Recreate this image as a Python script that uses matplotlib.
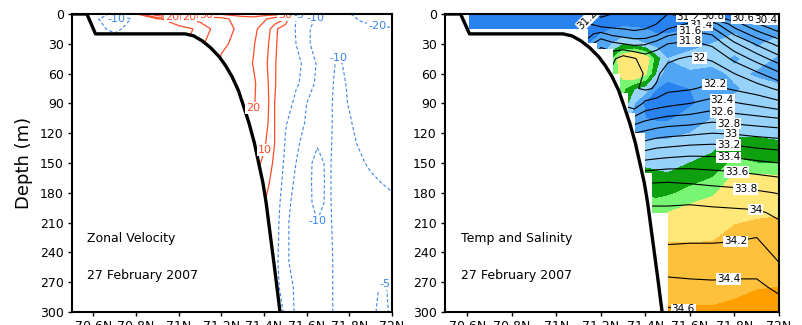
import numpy as np
import matplotlib
matplotlib.use('Agg')
import matplotlib.pyplot as plt
from matplotlib.patches import Polygon

# Perfil del fondo (latitud, profundidad)
topo_lon = [70.50, 70.57, 70.61, 71.03, 71.07, 71.11, 71.15, 71.19, 71.22, 71.25, 71.28,
            71.30, 71.33, 71.355, 71.375, 71.395, 71.41, 71.425, 71.44, 71.455, 71.475]
topo_dep = [0, 0, 20, 20, 22, 27, 34, 43, 52, 63, 77, 90, 110, 130, 150, 170, 190, 215, 240, 265, 300]

# Zona con datos en el panel de temperatura (escalones de la malla)
mask_edges = [70.609, 71.144, 71.181, 71.256, 71.286, 71.323, 71.353, 71.398, 71.428, 71.503, 72.0]
mask_bottom = [15.5, 29.5, 35, 60, 80, 100, 120, 160, 200, 300]

# Velocidad zonal (cm/s), filas = profundidad, columnas = latitud
lon_u = [70.6, 70.7, 70.8, 70.9, 71.0, 71.1, 71.2, 71.3, 71.35, 71.4, 71.45,
         71.5, 71.55, 71.6, 71.65, 71.7, 71.75, 71.8, 71.85, 71.9, 71.95, 72.0]
dep_u = [0, 5, 15, 30, 50, 70, 90, 110, 130, 150, 170, 190, 210, 230, 250, 275, 300]
u_vel = [
    [-2, -6, 4, 28, 36, 34, 31, 33, 34, 34, 34, 34, -4, -7, -9, -10.5, -13, -19.5, -23, -25, -26, -26],
    [-3, -11, -3, 4, 9, 12, 16, 27, 27, 22, 14, 10, -5, -8.5, -10.5, -11, -12.5, -17, -21, -22.5, -23, -23],
    [-2, -7, -1, 1, 3, 6, 14, 24, 23, 15, 6.5, 1, -5.5, -9.5, -11, -11.5, -12, -14, -16, -18, -19, -19.5],
    [0, 0, 0, 1, 3, 8, 18, 24, 21, 13, 6, 1, -5, -9.5, -11, -11.5, -11, -12, -13, -14, -15, -15],
    [0, 0, 0, 1, 3, 6, 22, 25, 19.5, 12, 5.5, 1, -3.5, -6.5, -10.5, -11, -9.5, -11, -12.5, -13, -13.5, -14],
    [0, 0, 0, 0, 2, 5, 24, 26, 22, 13, 5.5, 0.5, -4, -7.5, -11, -11, -9, -10.5, -12.5, -13, -13.5, -14],
    [0, 0, 0, 0, 2, 5, 24, 24, 21, 14, 5, -1, -7, -10, -11.5, -11, -8.5, -10.3, -12, -12.5, -13, -13.5],
    [0, 0, 0, 0, 2, 5, 20, 19, 17, 13, 5, -4.5, -8, -10.5, -11, -11, -8.5, -9.5, -11.5, -12, -12.5, -13],
    [0, 0, 0, 0, 2, 5, 16, 16, 14, 11, 5, -5.5, -9.5, -11, -10.3, -10.8, -8.5, -9, -10.5, -11.5, -12, -12.5],
    [0, 0, 0, 0, 2, 5, 14, 14, 12, 9, 4, -7, -10, -11, -9, -10.6, -8.5, -8.5, -9.3, -10.8, -11.5, -12],
    [0, 0, 0, 0, 2, 5, 12, 12, 10, 8, 2, -8.5, -10.5, -11, -8.8, -10.6, -8.5, -8, -8.5, -9, -10, -10.8],
    [0, 0, 0, 0, 2, 5, 10, 10, 8, 5.5, -1, -9, -11, -11, -9, -10.6, -8.5, -8, -8, -8, -8.5, -9],
    [0, 0, 0, 0, 2, 4, 8, 8, 6, 3, -2, -9.5, -11, -11, -10.1, -10.8, -8.5, -8, -7.5, -7.5, -7.5, -8],
    [0, 0, 0, 0, 2, 3, 6, 6, 4, 2, -2.5, -9.5, -11, -11.2, -11, -11, -8.5, -8, -7.5, -7, -7, -7],
    [0, 0, 0, 0, 1, 2, 4, 4, 2, 1, -3, -9.5, -11, -11.5, -11.5, -11.2, -8.5, -8, -7.5, -7, -6, -6.5],
    [0, 0, 0, 0, 1, 2, 3, 3, 1, 0, -3.5, -7, -11, -11.5, -11.5, -11.2, -8.5, -8, -7.5, -6.5, -4.5, -5.5],
    [0, 0, 0, 0, 1, 2, 2, 2, 1, 0, -3, -5.5, -11, -11.5, -11.5, -11.2, -8.5, -8, -7.5, -6, -4, -5.5],
]
u_pos_levels = [5, 10, 20, 30]
u_neg_levels = [-20, -10, -5]
u_pos_labels = [(70.97, 2), (71.05, 2.5), (71.13, 1.5), (71.5, 1), (71.365, 97), (71.405, 137)]
u_neg_labels = [(70.72, 8), (71.575, 3), (71.64, 3), (71.93, 13), (71.735, 42), (71.67, 215), (71.965, 272)]

# Temperatura y salinidad: cada lista es una columna (latitud) con valores por profundidad
lon_ts = [70.6, 70.8, 71.0, 71.1, 71.2, 71.25, 71.3, 71.35, 71.4, 71.45, 71.5, 71.6, 71.7, 71.8, 71.9, 72.0]
dep_ts = [0, 10, 20, 30, 45, 60, 75, 90, 105, 120, 135, 150, 165, 180, 200, 225, 250, 275, 300]
sal_cols = [
    [31.3, 31.3, 31.3, 31.35, 31.6, 31.9, 32.1, 32.3, 32.6, 32.9, 33.2, 33.5, 33.75, 33.92, 34.04, 34.16, 34.3, 34.47, 34.63],
    [31.3, 31.3, 31.3, 31.35, 31.6, 31.9, 32.1, 32.3, 32.6, 32.9, 33.2, 33.5, 33.75, 33.92, 34.04, 34.16, 34.3, 34.47, 34.63],
    [31.3, 31.3, 31.3, 31.35, 31.6, 31.9, 32.1, 32.3, 32.6, 32.9, 33.2, 33.5, 33.75, 33.92, 34.04, 34.16, 34.3, 34.47, 34.63],
    [31.3, 31.3, 31.3, 31.35, 31.6, 31.9, 32.1, 32.3, 32.6, 32.9, 33.2, 33.5, 33.75, 33.92, 34.04, 34.16, 34.3, 34.47, 34.63],
    [30.95, 31.1, 31.45, 31.75, 31.95, 32.0, 32.1, 32.3, 32.6, 32.9, 33.2, 33.5, 33.75, 33.92, 34.04, 34.16, 34.3, 34.47, 34.63],
    [31.0, 31.1, 31.35, 31.65, 31.95, 32.05, 32.05, 32.3, 32.6, 32.9, 33.2, 33.5, 33.75, 33.92, 34.04, 34.16, 34.3, 34.47, 34.63],
    [31.0, 31.1, 31.3, 31.6, 32.1, 32.12, 32.05, 32.15, 32.5, 32.85, 33.2, 33.5, 33.75, 33.92, 34.04, 34.16, 34.3, 34.47, 34.63],
    [31.05, 31.1, 31.25, 31.55, 32.02, 32.08, 32.02, 32.05, 32.45, 32.8, 33.15, 33.48, 33.74, 33.92, 34.04, 34.16, 34.3, 34.47, 34.63],
    [31.1, 31.15, 31.25, 31.58, 31.9, 31.98, 31.97, 32.25, 32.55, 32.85, 33.15, 33.46, 33.73, 33.92, 34.04, 34.16, 34.3, 34.47, 34.63],
    [31.15, 31.2, 31.35, 31.7, 31.93, 31.97, 32.02, 32.3, 32.6, 32.9, 33.2, 33.48, 33.74, 33.92, 34.04, 34.16, 34.3, 34.47, 34.63],
    [31.2, 31.25, 31.55, 31.8, 31.97, 32.07, 32.15, 32.34, 32.64, 32.93, 33.22, 33.5, 33.75, 33.92, 34.04, 34.16, 34.3, 34.47, 34.63],
    [31.1, 31.44, 31.66, 31.85, 32.03, 32.1, 32.18, 32.4, 32.67, 32.96, 33.26, 33.52, 33.73, 33.91, 34.06, 34.17, 34.3, 34.45, 34.61],
    [30.7, 31.3, 31.58, 31.76, 31.98, 32.1, 32.25, 32.48, 32.73, 33.0, 33.27, 33.5, 33.71, 33.88, 34.05, 34.17, 34.3, 34.44, 34.56],
    [30.55, 30.89, 31.17, 31.44, 31.75, 32.0, 32.17, 32.42, 32.69, 32.98, 33.25, 33.48, 33.69, 33.86, 34.04, 34.18, 34.3, 34.45, 34.56],
    [30.35, 30.62, 30.88, 31.17, 31.52, 31.84, 32.09, 32.35, 32.65, 32.94, 33.2, 33.44, 33.65, 33.83, 34.03, 34.2, 34.32, 34.44, 34.55],
    [30.2, 30.37, 30.66, 30.93, 31.28, 31.64, 31.96, 32.26, 32.6, 32.91, 33.17, 33.4, 33.61, 33.79, 33.96, 34.1, 34.2, 34.36, 34.5],
]
temp_cols = [
    [-1.65, -1.65, -1.65, -1.65, -1.6, -1.55, -1.55, -1.6, -1.6, -1.52, -1.47, -1.44, -1.38, -1.32, -1.2, -1.02, -0.92, -0.75, -0.55],
    [-1.65, -1.65, -1.65, -1.65, -1.6, -1.55, -1.55, -1.6, -1.6, -1.52, -1.47, -1.44, -1.38, -1.32, -1.2, -1.02, -0.92, -0.75, -0.55],
    [-1.65, -1.65, -1.65, -1.65, -1.6, -1.55, -1.55, -1.6, -1.6, -1.52, -1.47, -1.44, -1.38, -1.32, -1.2, -1.02, -0.92, -0.75, -0.55],
    [-1.65, -1.65, -1.65, -1.65, -1.6, -1.55, -1.55, -1.6, -1.6, -1.52, -1.47, -1.44, -1.38, -1.32, -1.2, -1.02, -0.92, -0.75, -0.55],
    [-1.65, -1.62, -1.6, -1.55, -1.5, -1.45, -1.5, -1.55, -1.6, -1.52, -1.47, -1.44, -1.38, -1.32, -1.2, -1.02, -0.92, -0.75, -0.55],
    [-1.65, -1.62, -1.58, -1.5, -1.3, -1.28, -1.3, -1.4, -1.5, -1.52, -1.47, -1.44, -1.38, -1.32, -1.2, -1.02, -0.92, -0.75, -0.55],
    [-1.65, -1.62, -1.55, -1.42, -1.1, -1.15, -1.28, -1.33, -1.42, -1.5, -1.47, -1.44, -1.38, -1.32, -1.2, -1.02, -0.92, -0.75, -0.55],
    [-1.65, -1.62, -1.56, -1.45, -1.02, -1.08, -1.4, -1.5, -1.55, -1.52, -1.47, -1.44, -1.38, -1.32, -1.2, -1.02, -0.92, -0.75, -0.55],
    [-1.65, -1.62, -1.58, -1.5, -1.12, -1.18, -1.45, -1.62, -1.6, -1.52, -1.47, -1.42, -1.36, -1.32, -1.22, -1.05, -0.92, -0.75, -0.55],
    [-1.65, -1.62, -1.6, -1.55, -1.36, -1.42, -1.6, -1.65, -1.62, -1.52, -1.47, -1.44, -1.36, -1.32, -1.25, -1.05, -0.92, -0.75, -0.55],
    [-1.65, -1.62, -1.6, -1.55, -1.5, -1.58, -1.62, -1.65, -1.62, -1.52, -1.47, -1.44, -1.38, -1.32, -1.2, -1.02, -0.92, -0.75, -0.55],
    [-1.65, -1.62, -1.58, -1.55, -1.45, -1.52, -1.6, -1.62, -1.55, -1.5, -1.45, -1.4, -1.34, -1.27, -1.15, -1.02, -0.92, -0.75, -0.55],
    [-1.62, -1.6, -1.55, -1.5, -1.45, -1.55, -1.5, -1.55, -1.5, -1.46, -1.42, -1.36, -1.3, -1.22, -1.12, -1.02, -0.9, -0.75, -0.55],
    [-1.62, -1.58, -1.5, -1.45, -1.52, -1.47, -1.52, -1.47, -1.45, -1.42, -1.34, -1.28, -1.18, -1.12, -1.05, -0.95, -0.82, -0.7, -0.5],
    [-1.62, -1.6, -1.52, -1.52, -1.45, -1.52, -1.45, -1.5, -1.46, -1.42, -1.35, -1.3, -1.17, -1.1, -1.03, -0.92, -0.8, -0.62, -0.45],
    [-1.62, -1.6, -1.52, -1.45, -1.52, -1.55, -1.48, -1.45, -1.5, -1.45, -1.35, -1.3, -1.18, -1.1, -1.02, -0.9, -0.8, -0.6, -0.35],
]
temp_bounds = [-2.0, -1.6, -1.5, -1.4, -1.3, -1.2, -1.0, -0.6, 1.0]
temp_colors = ['#2882f0', '#50a5f5', '#96d2fa', '#0fa00f', '#78f573', '#ffe878', '#ffc03c', '#ffa000']
sal_levels = [30.4, 30.6, 30.8, 31.0, 31.2, 31.4, 31.6, 31.8, 32.0, 32.2, 32.4, 32.6,
              32.8, 33.0, 33.2, 33.4, 33.6, 33.8, 34.0, 34.2, 34.4, 34.6]
sal_labels = [(71.12, 8), (71.59, 5), (71.65, 9), (71.70, 2), (71.84, 3), (71.945, 3),
              (71.60, 17), (71.60, 27), (71.64, 46), (71.71, 72.5), (71.745, 86), (71.745, 98),
              (71.775, 110.7), (71.785, 121), (71.775, 132), (71.775, 144), (71.81, 158),
              (71.85, 174), (71.895, 192), (71.81, 237.6), (71.775, 272), (71.57, 296)]

xticks = [70.6, 70.8, 71.0, 71.2, 71.4, 71.6, 71.8, 72.0]
xticklabels = ['70.6N', '70.8N', '71N', '71.2N', '71.4N', '71.6N', '71.8N', '72N']
yticks = [0, 30, 60, 90, 120, 150, 180, 210, 240, 270, 300]

red = '#ff4a26'
blue = '#3a86e8'
plt.rcParams['lines.dashed_pattern'] = [3.0, 2.0]

fig = plt.figure(figsize=(8.02, 3.25), dpi=100)
ax1 = fig.add_axes([72 / 802, 13 / 325, 320 / 802, 298 / 325])
ax2 = fig.add_axes([445 / 802, 13 / 325, 334 / 802, 298 / 325])


def white_box(texts, keep_first=False):
    for i, t in enumerate(texts):
        if not (keep_first and i == 0):
            t.set_rotation(0)
        t.set_bbox(dict(boxstyle='square,pad=0.08', fc='white', ec='none'))
        t.set_zorder(6)


# Panel izquierdo: velocidad zonal
XU, YU = np.meshgrid(lon_u, dep_u)
U = np.array(u_vel)
cp = ax1.contour(XU, YU, U, levels=u_pos_levels, colors=red, linewidths=0.9, zorder=2)
cn = ax1.contour(XU, YU, U, levels=u_neg_levels, colors=blue, linewidths=0.8,
                 linestyles='dashed', zorder=2)
white_box(ax1.clabel(cp, fmt='%g', fontsize=8, inline=False, manual=u_pos_labels))
white_box(ax1.clabel(cn, fmt='%g', fontsize=8, inline=False, manual=u_neg_labels))
land = Polygon(list(zip(topo_lon, topo_dep)) + [(70.5, 300)], closed=True,
               fc='white', ec='none', zorder=3)
ax1.add_patch(land)

# Panel derecho: temperatura sombreada y salinidad en contornos
XT, YT = np.meshgrid(lon_ts, dep_ts)
T = np.array(temp_cols).T
S = np.array(sal_cols).T
px = [mask_edges[0], mask_edges[-1]]
py = [0, 0]
for i in range(len(mask_bottom) - 1, -1, -1):
    px += [mask_edges[i + 1], mask_edges[i]]
    py += [mask_bottom[i], mask_bottom[i]]
valid = Polygon(np.column_stack([px, py]), closed=True, transform=ax2.transData)
cf = ax2.contourf(XT, YT, T, levels=temp_bounds, colors=temp_colors, zorder=1)
cf.set_clip_path(valid)
cs = ax2.contour(XT, YT, S, levels=sal_levels, colors='black', linewidths=0.8, zorder=2)
cs.set_clip_path(valid)
white_box(ax2.clabel(cs, fmt='%g', fontsize=7.5, inline=False, manual=sal_labels), keep_first=True)

for ax in (ax1, ax2):
    ax.plot(topo_lon, topo_dep, color='black', lw=2.4, zorder=4, solid_capstyle='butt')
    ax.set_xlim(70.5, 72.0)
    ax.set_ylim(300, 0)
    ax.set_xticks(xticks)
    ax.set_xticklabels(xticklabels)
    ax.set_yticks(yticks)
    ax.tick_params(direction='out', length=3, width=1, labelsize=9, pad=3)
    for sp in ax.spines.values():
        sp.set_linewidth(1.5)
        sp.set_zorder(7)

ax1.text(70.57, 226, 'Zonal Velocity', fontsize=9, va='center')
ax1.text(70.57, 263, '27 February 2007', fontsize=9, va='center')
ax2.text(70.57, 226, 'Temp and Salinity', fontsize=9, va='center')
ax2.text(70.57, 263, '27 February 2007', fontsize=9, va='center')
fig.text(24 / 802, 1 - 163 / 325, 'Depth (m)', rotation=90, fontsize=13,
         ha='center', va='center')

fig.savefig('out.png', dpi=100)
